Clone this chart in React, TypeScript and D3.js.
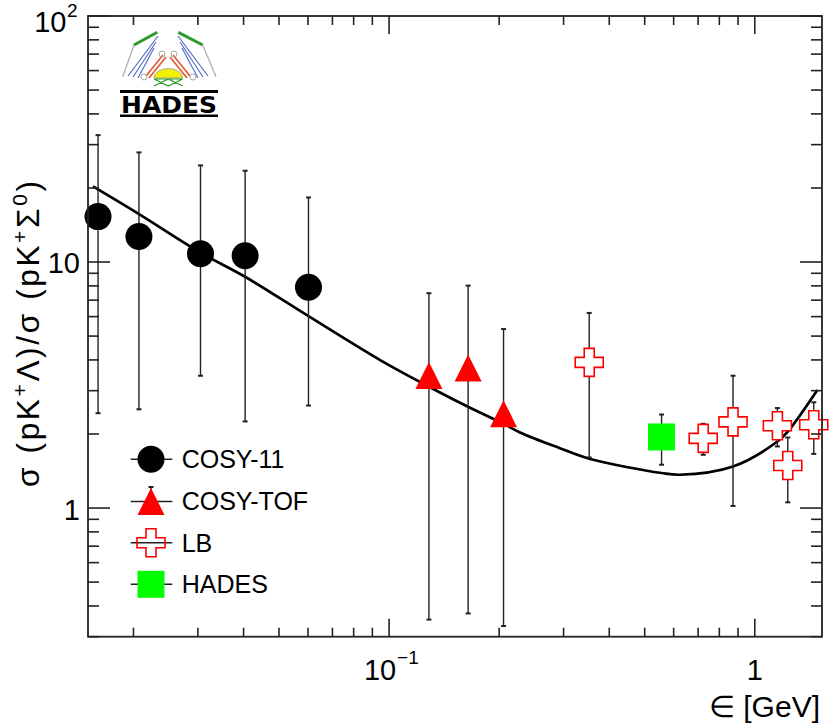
import React from "react";
import * as d3 from "d3";

// ---- data ----
const cosy11X = [0.016, 0.0207, 0.0305, 0.0404, 0.0602];
const cosy11Y = [15.3, 12.7, 10.8, 10.6, 7.9];
const cosy11Hi = [32.8, 27.9, 24.7, 23.5, 18.3];
const cosy11Lo = [2.43, 2.52, 3.45, 2.25, 2.61];

const cosyTofX = [0.1285, 0.1645, 0.2056];
const cosyTofY = [3.46, 3.71, 2.42];
const cosyTofHi = [7.47, 8.02, 5.34];
const cosyTofLo = [0.352, 0.373, 0.3315];

const lbX = [0.3526, 0.7227, 0.872, 1.153, 1.231, 1.45];
const lbY = [3.91, 1.92, 2.24, 2.16, 1.49, 2.18];
const lbHi = [6.21, 2.2, 3.45, 2.55, 1.935, 2.69];
const lbLo = [1.605, 1.646, 1.02, 1.78, 1.055, 1.66];

const hadesX = [0.556];
const hadesY = [1.945];
const hadesHi = [2.4];
const hadesLo = [1.5];

const curveX = [0.0155, 0.02066, 0.0305, 0.0405, 0.0596, 0.0945, 0.1286, 0.1644, 0.2058, 0.228, 0.293, 0.3526, 0.556, 0.624, 0.872, 1.153, 1.231, 1.483];
const curveY = [20.3, 15.7, 10.92, 8.69, 6.08, 3.995, 3.113, 2.58, 2.198, 2.03, 1.752, 1.586, 1.388, 1.366, 1.476, 1.864, 2.046, 3.02];

const legendLabels = ["COSY-11", "COSY-TOF", "LB", "HADES"];
const xMajorTicks = [0.1, 1];
const yMajorTicks = [1, 10, 100];

const FONT = "'Liberation Sans', Arial, Helvetica, sans-serif";
const AX = "#222";

export default function App() {
  const W = 831, H = 727;
  const L = 88, R = 822, T = 16, B = 636.7;
  const x = d3.scaleLog().domain([0.01502, 1.527]).range([L, R]);
  const y = d3.scaleLog().domain([0.3, 100]).range([B, T]);

  const xMinor: number[] = [];
  [0.01, 0.1, 1].forEach((d) => {
    for (let k = 2; k <= 9; k++) {
      const v = d * k;
      if (v > x.domain()[0] && v < x.domain()[1]) xMinor.push(v);
    }
  });
  const yMinor: number[] = [];
  [0.1, 1, 10].forEach((d) => {
    for (let k = 2; k <= 9; k++) {
      const v = d * k;
      if (v > y.domain()[0] && v < y.domain()[1]) yMinor.push(v);
    }
  });

  const line = d3
    .line<number>()
    .x((_, i) => x(curveX[i]))
    .y((d) => y(d))
    .curve(d3.curveCatmullRom.alpha(0.5));

  const errBar = (xs: number[], lo: number[], hi: number[], key: string) =>
    xs.map((v, i) => {
      const px = x(v);
      const y1 = y(hi[i]);
      const y2 = y(lo[i]);
      return (
        <g key={key + i} stroke={AX} strokeWidth={1.4}>
          <line x1={px} x2={px} y1={y1} y2={y2} />
          <line x1={px - 2.5} x2={px + 2.5} y1={y1} y2={y1} strokeWidth={2} />
          <line x1={px - 2.5} x2={px + 2.5} y1={y2} y2={y2} strokeWidth={2} />
        </g>
      );
    });

  const circle = (cx: number, cy: number, k: string) => (
    <circle key={k} cx={cx} cy={cy} r={13.5} fill="#000" />
  );
  const tri = (cx: number, cy: number, k: string) => (
    <path key={k} d={`M${cx},${cy - 13.5}L${cx + 13.5},${cy + 13.5}L${cx - 13.5},${cy + 13.5}Z`} fill="#ff0000" />
  );
  const cross = (cx: number, cy: number, k: string, fill = "#fff") => {
    const a = 14, b = 5;
    const d = `M${cx - b},${cy - a}H${cx + b}V${cy - b}H${cx + a}V${cy + b}H${cx + b}V${cy + a}H${cx - b}V${cy + b}H${cx - a}V${cy - b}H${cx - b}Z`;
    return <path key={k} d={d} fill={fill} stroke="#ff0000" strokeWidth={1.6} />;
  };
  const square = (cx: number, cy: number, k: string) => (
    <rect key={k} x={cx - 13.5} y={cy - 13.5} width={27} height={27} fill="#00ff00" />
  );

  const legendY = [459.3, 501.5, 542.7, 584.3];
  const legX = 151;

  return (
    <svg width={W} height={H} style={{ position: "absolute", left: 0, top: 0, background: "#fff" }} fontFamily={FONT}>
      <rect x={0} y={0} width={W} height={H} fill="#fff" />

      {/* HADES logo */}
      <g>
        <line x1={134} y1={45} x2={157.3} y2={32.3} stroke="#2a9a2a" strokeWidth={3} />
        <line x1={178.3} y1={32.3} x2={202.7} y2={45} stroke="#2a9a2a" strokeWidth={3} />
        <line x1={134} y1={45} x2={122.7} y2={76.7} stroke="#aaa" strokeWidth={1.2} />
        <line x1={202.7} y1={45} x2={216} y2={76.7} stroke="#aaa" strokeWidth={1.2} />
        {[0, 1, 2].map((i) => (
          <g key={"bl" + i} stroke="#5a6ec8" strokeWidth={1.2}>
            <line x1={158 - i * 2} y1={36 + i * 6} x2={128 + i * 5} y2={76 + i * 1} />
            <line x1={178 + i * 2} y1={36 + i * 6} x2={208 - i * 5} y2={76 + i * 1} />
          </g>
        ))}
        <g stroke="#e0603a" strokeWidth={1.8}>
          <line x1={163} y1={55} x2={146} y2={76} />
          <line x1={166} y1={57} x2={149} y2={78} />
          <line x1={173} y1={55} x2={190} y2={76} />
          <line x1={170} y1={57} x2={187} y2={78} />
        </g>
        <circle cx={144} cy={77} r={3} fill="none" stroke="#aaa" strokeWidth={1} />
        <circle cx={193} cy={77} r={3} fill="none" stroke="#aaa" strokeWidth={1} />
        <circle cx={162} cy={54} r={3} fill="none" stroke="#aaa" strokeWidth={1} />
        <circle cx={174} cy={54} r={3} fill="none" stroke="#aaa" strokeWidth={1} />
        <path d="M154,78 A14.3,9.5 0 0 1 182.6,78 Z" fill="#f0f000" stroke="#999" strokeWidth={0.8} />
        <path d="M154,79 L182.6,79 L168.3,86 Z M154,86 L168.3,79 L182.6,86" fill="none" stroke="#2a9a2a" strokeWidth={1.2} />
        <rect x={120} y={90} width={98} height={3} fill="#000" />
        <text x={121} y={112.5} fontSize={23} fontWeight="bold" fontFamily="'DejaVu Sans', sans-serif" textLength={96} lengthAdjust="spacingAndGlyphs">HADES</text>
        <rect x={120} y={114.5} width={98} height={2.5} fill="#000" />
      </g>

      {/* curve */}
      <path d={line(curveY) || ""} fill="none" stroke="#000" strokeWidth={2.7} />

      {/* error bars */}
      {errBar(cosy11X, cosy11Lo, cosy11Hi, "c11")}
      {errBar(cosyTofX, cosyTofLo, cosyTofHi, "tof")}
      {errBar(lbX, lbLo, lbHi, "lb")}
      {errBar(hadesX, hadesLo, hadesHi, "hd")}

      {/* markers */}
      {cosy11X.map((v, i) => circle(x(v), y(cosy11Y[i]), "cm" + i))}
      {cosyTofX.map((v, i) => tri(x(v), y(cosyTofY[i]), "tm" + i))}
      {lbX.map((v, i) => cross(x(v), y(lbY[i]), "lm" + i))}
      {hadesX.map((v, i) => square(x(v), y(hadesY[i]), "hm" + i))}

      {/* legend */}
      {legendLabels.map((lab, i) => (
        <g key={"lg" + i}>
          <line x1={130.7} x2={172.3} y1={legendY[i]} y2={legendY[i]} stroke={AX} strokeWidth={1.4} />
          <text x={181.7} y={legendY[i] + 8.8} fontSize={25} fill="#000">{lab}</text>
        </g>
      ))}
      <line x1={legX - 2.5} x2={legX + 2.5} y1={legendY[1] - 14.5} y2={legendY[1] - 14.5} stroke={AX} strokeWidth={2} />
      <line x1={legX} x2={legX} y1={legendY[1] - 14.5} y2={legendY[1]} stroke={AX} strokeWidth={1.4} />
      {circle(legX, legendY[0], "lgc")}
      {tri(legX, legendY[1], "lgt")}
      {cross(legX, legendY[2], "lgx", "none")}
      {square(legX, legendY[3], "lgs")}

      {/* frame */}
      <rect x={L} y={T} width={R - L} height={B - T} fill="none" stroke={AX} strokeWidth={1.8} />

      {/* x ticks */}
      {xMajorTicks.map((v) => (
        <g key={"xM" + v} stroke={AX} strokeWidth={1.6}>
          <line x1={x(v)} x2={x(v)} y1={B} y2={B - 18} />
          <line x1={x(v)} x2={x(v)} y1={T} y2={T + 18} />
        </g>
      ))}
      {xMinor.map((v) => (
        <g key={"xm" + v} stroke={AX} strokeWidth={1.6}>
          <line x1={x(v)} x2={x(v)} y1={B} y2={B - 9} />
          <line x1={x(v)} x2={x(v)} y1={T} y2={T + 9} />
        </g>
      ))}
      {/* y ticks */}
      {yMajorTicks.map((v) => (
        <g key={"yM" + v} stroke={AX} strokeWidth={1.6}>
          <line x1={L} x2={L + 22} y1={y(v)} y2={y(v)} />
          <line x1={R} x2={R - 22} y1={y(v)} y2={y(v)} />
        </g>
      ))}
      {yMinor.map((v) => (
        <g key={"ym" + v} stroke={AX} strokeWidth={1.6}>
          <line x1={L} x2={L + 11} y1={y(v)} y2={y(v)} />
          <line x1={R} x2={R - 11} y1={y(v)} y2={y(v)} />
        </g>
      ))}

      {/* y tick labels */}
      <text x={66.5} y={y(100) + 16} fontSize={29} textAnchor="end" fill="#000">10</text>
      <text x={67} y={y(100) + 1} fontSize={19} fill="#000">2</text>
      <text x={80} y={y(10) + 11} fontSize={29} textAnchor="end" fill="#000">10</text>
      <text x={80} y={y(1) + 11.5} fontSize={29} textAnchor="end" fill="#000">1</text>

      {/* x tick labels */}
      <text x={x(0.1) - 9} y={680} fontSize={29} textAnchor="middle" fill="#000">10</text>
      <text x={x(0.1) + 8} y={664} fontSize={19} fill="#000">−1</text>
      <text x={x(1)} y={679.5} fontSize={29} textAnchor="middle" fill="#000">1</text>

      {/* axis titles */}
      <text x={820} y={716.5} fontSize={30} textAnchor="end" fill="#000">∈ [GeV]</text>
      <text transform="translate(39,487) rotate(-90)" fontSize={31.5} textAnchor="start" fill="#000" textLength={306} lengthAdjust="spacing">
        σ (pK<tspan dy={-12} fontSize={21}>+</tspan><tspan dy={12}>Λ)/σ (pK</tspan>
        <tspan dy={-12} fontSize={21}>+</tspan><tspan dy={12}>Σ</tspan>
        <tspan dy={-12} fontSize={21}>0</tspan><tspan dy={12}>)</tspan>
      </text>
    </svg>
  );
}
